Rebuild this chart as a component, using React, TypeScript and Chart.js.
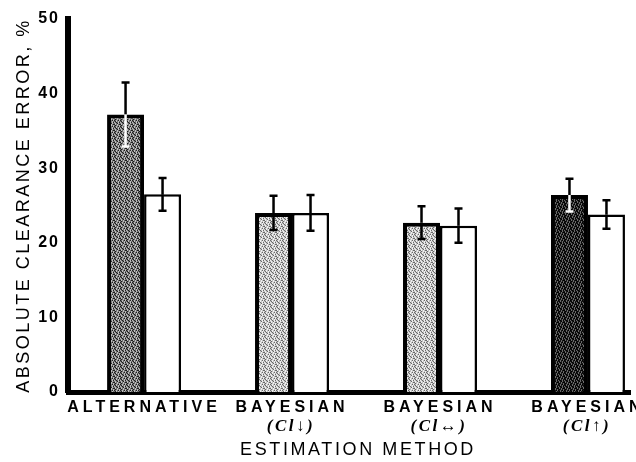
import React, { useEffect, useRef } from "react";
import { Chart, registerables, LinearScale } from "chart.js";

// ---------- data ----------
const categories = ["ALTERNATIVE", "BAYESIAN", "BAYESIAN", "BAYESIAN"];
const subLabels = ["", "(Cl\u2193)", "(Cl\u2194)", "(Cl\u2191)"];
const shadedValues = [37.2, 24.0, 22.7, 26.4];
const shadedErrors = [4.3, 2.3, 2.2, 2.2];
const whiteValues = [26.5, 24.0, 22.3, 23.8];
const whiteErrors = [2.2, 2.4, 2.3, 1.9];
const yTickValues = [0, 10, 20, 30, 40, 50];
const yTitle = "ABSOLUTE CLEARANCE ERROR, %";
const xTitle = "ESTIMATION METHOD";

// ---------- styles ----------
const textStyle: Record<string, { labels: string; title: string; titleShift: number }> = {
  x: { labels: "4px", title: "2.6px", titleShift: 9 },
  y: { labels: "2px", title: "2.5px", titleShift: 0 },
};
const innerWhiskerColors = ["#ffffff", "#000000", "#000000", "#ffffff"];
const dotMap = [
  "a.b.ab",
  ".ab.b.",
  "b.a.ba",
  ".b.ab.",
  "ab.b.a",
  ".a.b.b",
];

class SpacedLinear extends (LinearScale as any) {
  static id = "spacedLinear";
  drawLabels(chartArea: any) {
    const c = this.ctx;
    c.save();
    (c as any).letterSpacing = textStyle[this.id]?.labels ?? "0px";
    super.drawLabels(chartArea);
    c.restore();
  }
  drawTitle() {
    const c = this.ctx;
    const st = textStyle[this.id];
    c.save();
    (c as any).letterSpacing = st?.title ?? "0px";
    c.translate(st?.titleShift ?? 0, 0);
    super.drawTitle();
    c.restore();
  }
}

Chart.register(...registerables, SpacedLinear as any);

function makePattern(base: string, dotA: string, dotB: string) {
  const n = dotMap.length;
  const cv = document.createElement("canvas");
  cv.width = n;
  cv.height = n;
  const g = cv.getContext("2d")!;
  g.fillStyle = base;
  g.fillRect(0, 0, n, n);
  dotMap.forEach((row, yy) => {
    for (let xx = 0; xx < row.length; xx++) {
      const ch = row[xx];
      if (ch === "a") {
        g.fillStyle = dotA;
        g.fillRect(xx, yy, 1, 1);
      } else if (ch === "b") {
        g.fillStyle = dotB;
        g.fillRect(xx, yy, 1, 1);
      }
    }
  });
  return g.createPattern(cv, "repeat")!;
}

const errorBarPlugin = {
  id: "errorBars",
  afterDatasetsDraw(chart: any) {
    const ctx = chart.ctx;
    const yScale = chart.scales.y;
    const sets = [
      { values: shadedValues, errors: shadedErrors, inner: innerWhiskerColors },
      { values: whiteValues, errors: whiteErrors, inner: ["#000", "#000", "#000", "#000"] },
    ];
    sets.forEach((s, di) => {
      const meta = chart.getDatasetMeta(di);
      meta.data.forEach((bar: any, i: number) => {
        const x = bar.x;
        const yTop = yScale.getPixelForValue(s.values[i] + s.errors[i]);
        const yVal = yScale.getPixelForValue(s.values[i]);
        const yBot = yScale.getPixelForValue(s.values[i] - s.errors[i]);
        ctx.save();
        ctx.lineWidth = 2.5;
        ctx.lineCap = "butt";
        ctx.strokeStyle = "#000";
        ctx.beginPath();
        ctx.moveTo(x, yTop);
        ctx.lineTo(x, yVal);
        ctx.moveTo(x - 4, yTop);
        ctx.lineTo(x + 4, yTop);
        ctx.stroke();
        ctx.strokeStyle = s.inner[i];
        ctx.beginPath();
        ctx.moveTo(x, yVal);
        ctx.lineTo(x, yBot);
        ctx.moveTo(x - 4, yBot);
        ctx.lineTo(x + 4, yBot);
        ctx.stroke();
        ctx.restore();
      });
    });
  },
};

const subLabelPlugin = {
  id: "subLabels",
  afterDraw(chart: any) {
    const ctx = chart.ctx;
    const xs = chart.scales.x;
    ctx.save();
    ctx.font = 'italic bold 17px "Liberation Serif", "DejaVu Serif", serif';
    ctx.fillStyle = "#000";
    ctx.textAlign = "center";
    ctx.textBaseline = "middle";
    (ctx as any).letterSpacing = "2.5px";
    subLabels.forEach((t, i) => {
      if (t) ctx.fillText(t, xs.getPixelForValue(i) - 1, xs.top + 35);
    });
    ctx.restore();
  },
};

export default function App() {
  const ref = useRef<HTMLCanvasElement>(null);
  useEffect(() => {
    if (!ref.current) return;
    const pMid = makePattern("#6e6e6e", "#1e1e1e", "#bdbdbd");
    const pLight = makePattern("#c2c2c2", "#6a6a6a", "#f0f0f0");
    const pDark = makePattern("#161616", "#000000", "#6a6a6a");
    const chart = new Chart(ref.current, {
      type: "bar",
      data: {
        datasets: [
          {
            data: shadedValues.map((v, i) => ({ x: i, y: v })),
            backgroundColor: [pMid, pLight, pLight, pDark],
            borderColor: "#000",
            borderWidth: 4,
            borderSkipped: "bottom",
            categoryPercentage: 0.5,
            barPercentage: 1.0,
          },
          {
            data: whiteValues.map((v, i) => ({ x: i, y: v })),
            backgroundColor: "#ffffff",
            borderColor: "#000",
            borderWidth: 2.5,
            borderSkipped: "bottom",
            categoryPercentage: 0.5,
            barPercentage: 1.0,
          },
        ] as any,
      },
      options: {
        animation: false,
        responsive: false,
        layout: { padding: { left: 0, right: 6, top: 19, bottom: 0 } },
        plugins: { legend: { display: false }, tooltip: { enabled: false } },
        scales: {
          x: {
            type: "spacedLinear" as any,
            min: -0.514,
            max: 3.284,
            offset: false,
            grid: { display: false, drawTicks: false, offset: false },
            border: { display: true, color: "#000", width: 5 },
            afterBuildTicks: (scale: any) => {
              scale.ticks = categories.map((_, i) => ({ value: i }));
            },
            afterFit: (scale: any) => {
              scale.height = 70;
              scale.paddingLeft = 0;
              scale.paddingRight = 0;
            },
            ticks: {
              autoSkip: false,
              maxRotation: 0,
              minRotation: 0,
              padding: 6,
              color: "#000",
              font: { family: '"Liberation Sans", Arial, sans-serif', size: 16, weight: "bold", lineHeight: 1.2 },
              callback: (v: any) => categories[v] ?? "",
            },
            title: {
              display: true,
              text: xTitle,
              color: "#000",
              padding: { top: 0, bottom: 1 },
              font: { family: '"Liberation Sans", Arial, sans-serif', size: 18, weight: "normal", lineHeight: 1.2 },
            },
          } as any,
          y: {
            type: "spacedLinear" as any,
            min: 0,
            max: 50,
            grid: { display: false, drawTicks: false },
            border: { display: true, color: "#000", width: 6 },
            afterBuildTicks: (scale: any) => {
              scale.ticks = yTickValues.map((v) => ({ value: v }));
            },
            afterFit: (scale: any) => {
              scale.width = 68;
              scale.paddingTop = 0;
              scale.paddingBottom = 0;
            },
            ticks: {
              padding: 8,
              color: "#000",
              font: { family: '"Liberation Sans", Arial, sans-serif', size: 16, weight: "bold" },
            },
            title: {
              display: true,
              text: yTitle,
              color: "#000",
              padding: { top: 13, bottom: 0 },
              font: { family: '"Liberation Sans", Arial, sans-serif', size: 18, weight: "normal", lineHeight: 1.2 },
            },
          } as any,
        },
      },
      plugins: [errorBarPlugin, subLabelPlugin],
    });
    return () => chart.destroy();
  }, []);
  return (
    <div style={{ position: "absolute", left: 0, top: 0, width: 636, height: 462, background: "#fff" }}>
      <canvas ref={ref} width={636} height={462} style={{ display: "block" }} />
    </div>
  );
}
